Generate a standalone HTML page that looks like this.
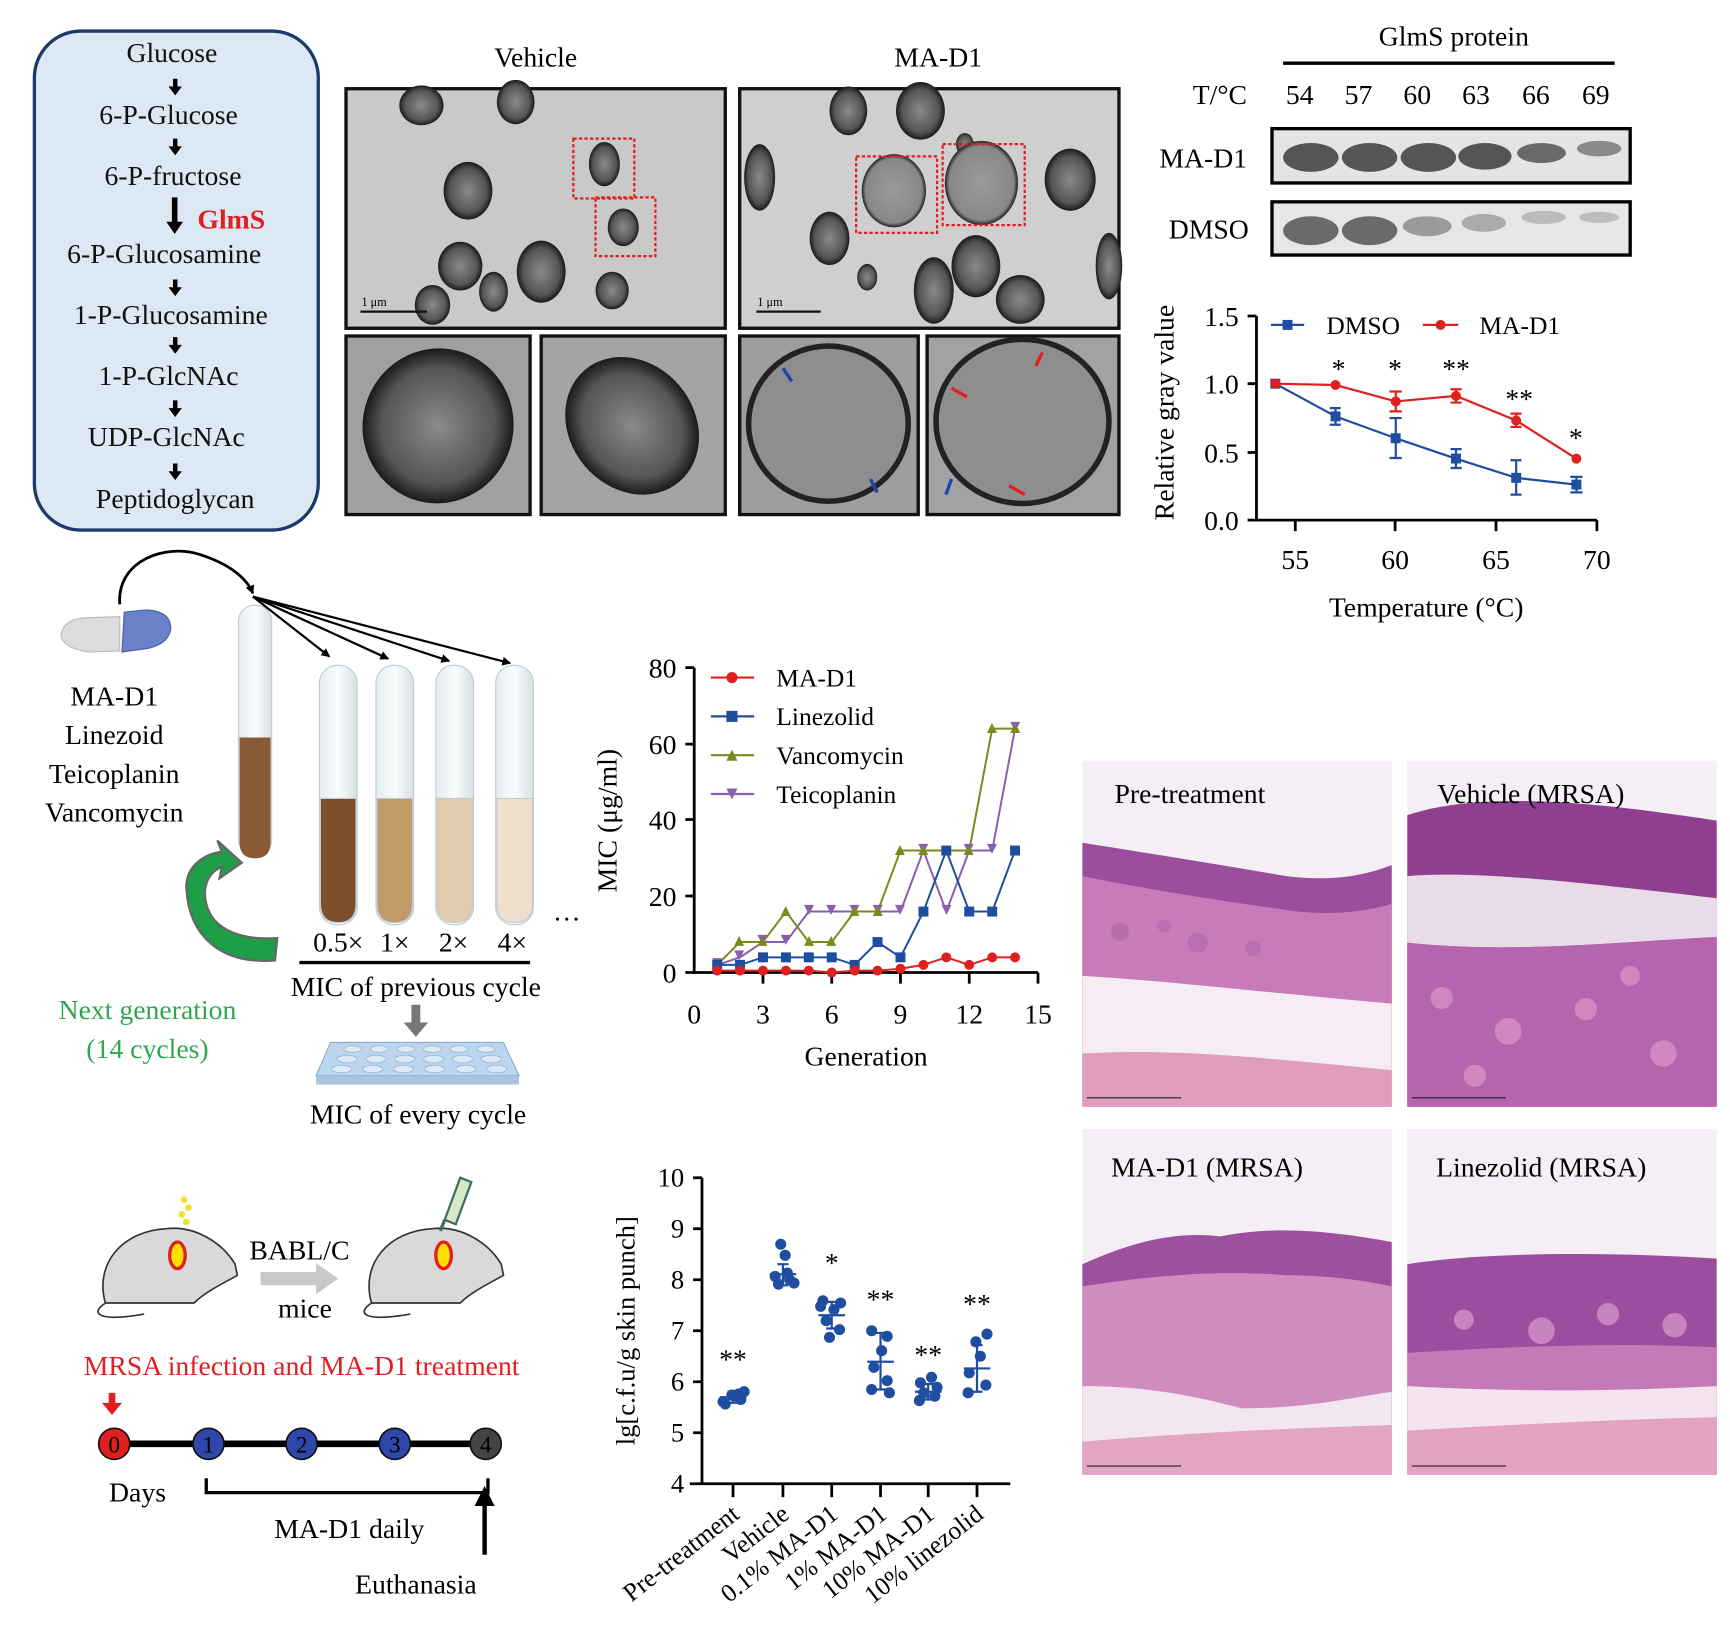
<!DOCTYPE html>
<html><head><meta charset="utf-8"><style>
html,body{margin:0;padding:0;background:#fff;}
svg{display:block;}
text{font-family:"Liberation Serif","DejaVu Serif",serif;}
</style></head><body>
<svg width="1730" height="1649" viewBox="0 0 1560 1487" preserveAspectRatio="none" xmlns="http://www.w3.org/2000/svg">
<defs>
<marker id="ah" markerWidth="8" markerHeight="8" refX="7" refY="4" orient="auto" markerUnits="userSpaceOnUse"><path d="M0,0 L8,4 L0,8 Z" fill="#000"/></marker>
<linearGradient id="tube" x1="0" x2="1"><stop offset="0" stop-color="#e4ecef"/><stop offset="0.5" stop-color="#fafcfc"/><stop offset="1" stop-color="#d6e0e4"/></linearGradient>
<radialGradient id="cell" cx="0.5" cy="0.5" r="0.5"><stop offset="0" stop-color="#8a8a8a"/><stop offset="0.75" stop-color="#555"/><stop offset="1" stop-color="#1a1a1a"/></radialGradient>
<radialGradient id="cellL" cx="0.5" cy="0.5" r="0.5"><stop offset="0" stop-color="#9a9a9a"/><stop offset="0.88" stop-color="#888"/><stop offset="1" stop-color="#222"/></radialGradient>
<symbol id="sqB" viewBox="-6 -6 12 12" overflow="visible"><rect x="-4.5" y="-4.5" width="9" height="9" fill="#1f4ea0"/></symbol>
</defs>

<!-- Pathway -->
<rect x="31" y="28" width="256" height="450" rx="42" fill="#dce8f3" stroke="#1c3a6a" stroke-width="3"/>
<g font-size="25" text-anchor="middle" fill="#111">
<text x="155" y="56">Glucose</text>
<text x="152" y="112">6-P-Glucose</text>
<text x="156" y="167">6-P-fructose</text>
<text x="148" y="237">6-P-Glucosamine</text>
<text x="154" y="292">1-P-Glucosamine</text>
<text x="152" y="347">1-P-GlcNAc</text>
<text x="150" y="402">UDP-GlcNAc</text>
<text x="158" y="458">Peptidoglycan</text>
</g>
<text x="178" y="206" font-size="25" font-weight="bold" fill="#e02020">GlmS</text>
<g fill="#000">
<path d="M156,71 h4 v7 h4 l-6,8 l-6,-8 h4z"/>
<path d="M156,125 h4 v7 h4 l-6,8 l-6,-8 h4z"/>
<path d="M155,178 h5 v22 h5 l-7.5,11 l-7.5,-11 h5z"/>
<path d="M156,252 h4 v7 h4 l-6,8 l-6,-8 h4z"/>
<path d="M156,304 h4 v7 h4 l-6,8 l-6,-8 h4z"/>
<path d="M156,361 h4 v7 h4 l-6,8 l-6,-8 h4z"/>
<path d="M156,418 h4 v7 h4 l-6,8 l-6,-8 h4z"/>
</g>

<!-- TEM -->
<text x="483" y="60" font-size="25" text-anchor="middle">Vehicle</text>
<text x="846" y="60" font-size="25" text-anchor="middle">MA-D1</text>
<rect x="312" y="80" width="342" height="216" fill="#c9c9c9" stroke="#111" stroke-width="3"/>
<g fill="url(#cell)">
<ellipse cx="380" cy="95" rx="20" ry="18"/><ellipse cx="465" cy="92" rx="17" ry="20"/>
<ellipse cx="422" cy="172" rx="22" ry="26"/><ellipse cx="545" cy="148" rx="14" ry="20"/>
<ellipse cx="562" cy="205" rx="14" ry="17"/><ellipse cx="415" cy="240" rx="20" ry="22"/>
<ellipse cx="488" cy="245" rx="22" ry="28"/><ellipse cx="552" cy="262" rx="15" ry="17"/>
<ellipse cx="445" cy="263" rx="13" ry="18"/><ellipse cx="390" cy="275" rx="16" ry="18"/>
</g>
<rect x="517" y="125" width="55" height="54" fill="none" stroke="#e02020" stroke-width="2" stroke-dasharray="3 2"/>
<rect x="537" y="178" width="54" height="53" fill="none" stroke="#e02020" stroke-width="2" stroke-dasharray="3 2"/>
<line x1="325" y1="281" x2="385" y2="281" stroke="#111" stroke-width="2"/><text x="326" y="276" font-size="11">1 μm</text>

<rect x="667" y="80" width="342" height="216" fill="#cfcfcf" stroke="#111" stroke-width="3"/>
<g fill="url(#cell)">
<ellipse cx="765" cy="100" rx="17" ry="22"/><ellipse cx="830" cy="100" rx="22" ry="26"/>
<ellipse cx="685" cy="160" rx="14" ry="30"/><ellipse cx="965" cy="162" rx="23" ry="28"/>
<ellipse cx="748" cy="215" rx="18" ry="24"/><ellipse cx="880" cy="240" rx="22" ry="28"/>
<ellipse cx="842" cy="262" rx="18" ry="30"/><ellipse cx="920" cy="270" rx="22" ry="22"/>
<ellipse cx="1000" cy="240" rx="12" ry="30"/><ellipse cx="870" cy="130" rx="8" ry="10"/>
<ellipse cx="782" cy="250" rx="9" ry="12"/>
</g>
<g fill="url(#cellL)"><ellipse cx="806" cy="172" rx="29" ry="33"/><ellipse cx="885" cy="165" rx="33" ry="38"/></g>
<rect x="772" y="141" width="73" height="69" fill="none" stroke="#e02020" stroke-width="2" stroke-dasharray="3 2"/>
<rect x="850" y="130" width="74" height="73" fill="none" stroke="#e02020" stroke-width="2" stroke-dasharray="3 2"/>
<line x1="682" y1="281" x2="740" y2="281" stroke="#111" stroke-width="2"/><text x="683" y="276" font-size="11">1 μm</text>

<rect x="312" y="303" width="166" height="161" fill="#a0a0a0" stroke="#111" stroke-width="3"/>
<ellipse cx="395" cy="384" rx="68" ry="70" fill="url(#cell)" transform="rotate(15 395 384)"/>
<rect x="488" y="303" width="166" height="161" fill="#a4a4a4" stroke="#111" stroke-width="3"/>
<ellipse cx="570" cy="384" rx="66" ry="56" fill="url(#cell)" transform="rotate(50 570 384)"/>
<rect x="667" y="303" width="161" height="161" fill="#9e9e9e" stroke="#111" stroke-width="3"/>
<ellipse cx="747" cy="382" rx="72" ry="70" fill="#8e8e8e" stroke="#222" stroke-width="5"/>
<rect x="836" y="303" width="173" height="161" fill="#a2a2a2" stroke="#111" stroke-width="3"/>
<ellipse cx="922" cy="380" rx="78" ry="74" fill="#8e8e8e" stroke="#222" stroke-width="5"/>
<g stroke-width="3" fill="none"><path d="M706,332 l8,12 M785,432 l6,12" stroke="#2244aa"/><path d="M858,432 l-5,14" stroke="#2244aa"/><path d="M940,318 l-6,12 M858,350 l14,8 M910,438 l14,8" stroke="#e02020"/></g>

<!-- Gel -->
<text x="1311" y="41" font-size="25" text-anchor="middle">GlmS protein</text>
<line x1="1157" y1="57" x2="1456" y2="57" stroke="#000" stroke-width="3"/>
<g font-size="25" text-anchor="middle"><text x="1100" y="94">T/°C</text><text x="1172" y="94">54</text><text x="1225" y="94">57</text><text x="1278" y="94">60</text><text x="1331" y="94">63</text><text x="1385" y="94">66</text><text x="1439" y="94">69</text>
<text x="1085" y="151">MA-D1</text><text x="1090" y="215">DMSO</text></g>
<rect x="1147" y="116" width="323" height="49" fill="#e4e4e4" stroke="#000" stroke-width="3"/>
<g fill="#555"><ellipse cx="1182" cy="142" rx="25" ry="13"/><ellipse cx="1235" cy="142" rx="25" ry="13"/><ellipse cx="1288" cy="142" rx="25" ry="13"/><ellipse cx="1339" cy="141" rx="24" ry="12"/><ellipse cx="1390" cy="138" rx="22" ry="9" fill="#6a6a6a"/><ellipse cx="1442" cy="134" rx="20" ry="7" fill="#8a8a8a"/></g>
<rect x="1147" y="182" width="323" height="48" fill="#e6e6e6" stroke="#000" stroke-width="3"/>
<g><ellipse cx="1182" cy="208" rx="25" ry="13" fill="#6a6a6a"/><ellipse cx="1235" cy="208" rx="25" ry="13" fill="#6a6a6a"/><ellipse cx="1287" cy="204" rx="22" ry="9" fill="#9a9a9a"/><ellipse cx="1338" cy="201" rx="20" ry="8" fill="#aaa"/><ellipse cx="1392" cy="196" rx="20" ry="6" fill="#bbb"/><ellipse cx="1442" cy="196" rx="18" ry="5" fill="#bdbdbd"/></g>

<!-- Thermal chart -->
<g stroke="#000" stroke-width="2.5" fill="none">
<path d="M1133,285 V469 H1440"/>
<path d="M1125,285 H1133 M1125,346 H1133 M1125,408 H1133 M1125,469 H1133"/>
<path d="M1168,469 V479 M1258,469 V479 M1349,469 V479 M1440,469 V479"/>
</g>
<g font-size="25" text-anchor="end"><text x="1117" y="294">1.5</text><text x="1117" y="355">1.0</text><text x="1117" y="417">0.5</text><text x="1117" y="478">0.0</text></g>
<g font-size="25" text-anchor="middle"><text x="1168" y="513">55</text><text x="1258" y="513">60</text><text x="1349" y="513">65</text><text x="1440" y="513">70</text>
<text x="1286" y="556">Temperature (°C)</text></g>
<text transform="translate(1058,372) rotate(-90)" font-size="25" text-anchor="middle">Relative gray value</text>
<g stroke="#1f4ea0" stroke-width="2" fill="none">
<polyline points="1150,346 1204.3,375.5 1258.6,395.2 1312.9,413.6 1367.2,430.9 1421.5,437"/>
<path d="M1204.3,368 V383 M1199,368 h10 M1199,383 h10 M1258.6,377 V413 M1253,377 h11 M1253,413 h11 M1312.9,405 V422 M1308,405 h10 M1308,422 h10 M1367.2,415 V446 M1362,415 h10 M1362,446 h10 M1421.5,430 V444 M1416,430 h11 M1416,444 h11"/>
</g>
<g stroke="#e02020" stroke-width="2" fill="none">
<polyline points="1150,346 1204.3,347.2 1258.6,362 1312.9,357 1367.2,379.2 1421.5,413.6"/>
<path d="M1258.6,353 V371 M1253,353 h11 M1253,371 h11 M1312.9,351 V363 M1308,351 h10 M1308,363 h10 M1367.2,373 V385 M1362,373 h10 M1362,385 h10"/>
</g>
<g fill="#1f4ea0"><rect x="1145.5" y="341.5" width="9" height="9"/><rect x="1199.8" y="371" width="9" height="9"/><rect x="1254" y="390.7" width="9" height="9"/><rect x="1308.4" y="409" width="9" height="9"/><rect x="1362.7" y="426.4" width="9" height="9"/><rect x="1417" y="432.5" width="9" height="9"/></g>
<g fill="#e02020"><circle cx="1150" cy="346" r="4.5"/><circle cx="1204.3" cy="347.2" r="4.5"/><circle cx="1258.6" cy="362" r="4.5"/><circle cx="1312.9" cy="357" r="4.5"/><circle cx="1367.2" cy="379.2" r="4.5"/><circle cx="1421.5" cy="413.6" r="4.5"/></g>
<g font-size="25" text-anchor="middle"><text x="1207" y="341">*</text><text x="1258" y="341">*</text><text x="1313" y="341">**</text><text x="1370" y="368">**</text><text x="1421" y="403">*</text></g>
<line x1="1146" y1="293" x2="1176" y2="293" stroke="#1f4ea0" stroke-width="2"/><rect x="1156.5" y="288.5" width="9" height="9" fill="#1f4ea0"/>
<text x="1196" y="301" font-size="23">DMSO</text>
<line x1="1283" y1="293" x2="1315" y2="293" stroke="#e02020" stroke-width="2"/><circle cx="1299" cy="293" r="4.5" fill="#e02020"/>
<text x="1334" y="301" font-size="23">MA-D1</text>

<!-- Resistance schematic -->
<path d="M108,545 C105,505 150,490 180,500 C205,508 222,520 228,535" fill="none" stroke="#000" stroke-width="2.5" marker-end="url(#ah)"/>
<path d="M80,557 q-22,0 -25,15 q0,12 25,16 l28,-1 l0,-31z" fill="#dcdcdc" stroke="#bbb"/>
<path d="M112,552 l20,-2 q22,1 22,17 q-2,14 -22,18 l-22,3z" fill="#6a80c8" stroke="#4a5ea8"/>
<g font-size="25" text-anchor="middle"><text x="103" y="636">MA-D1</text><text x="103" y="671">Linezoid</text><text x="103" y="706">Teicoplanin</text><text x="103" y="741">Vancomycin</text></g>
<rect x="215" y="546" width="30" height="225" rx="14" fill="url(#tube)" stroke="#c0ccd2"/>
<path d="M216,665 h28 v95 q0,14 -14,14 q-14,0 -14,-14z" fill="#8a5a34"/>
<g stroke="#000" stroke-width="2" fill="none">
<line x1="228" y1="538" x2="297" y2="592" marker-end="url(#ah)"/>
<line x1="228" y1="538" x2="350" y2="594" marker-end="url(#ah)"/>
<line x1="228" y1="538" x2="405" y2="596" marker-end="url(#ah)"/>
<line x1="228" y1="538" x2="460" y2="598" marker-end="url(#ah)"/>
</g>
<g stroke="#c0ccd2">
<rect x="288" y="600" width="34" height="234" rx="16" fill="url(#tube)"/><path d="M289,720 h32 v95 q0,17 -16,17 q-16,0 -16,-17z" fill="#7d4f2a"/>
<rect x="339" y="600" width="34" height="234" rx="16" fill="url(#tube)"/><path d="M340,720 h32 v95 q0,17 -16,17 q-16,0 -16,-17z" fill="#c09a68"/>
<rect x="393" y="600" width="34" height="234" rx="16" fill="url(#tube)"/><path d="M394,720 h32 v95 q0,17 -16,17 q-16,0 -16,-17z" fill="#e3cbae"/>
<rect x="447" y="600" width="34" height="234" rx="16" fill="url(#tube)"/><path d="M448,720 h32 v95 q0,17 -16,17 q-16,0 -16,-17z" fill="#efdfcd"/>
</g>
<g font-size="25" text-anchor="middle"><text x="305" y="858">0.5×</text><text x="356" y="858">1×</text><text x="409" y="858">2×</text><text x="462" y="858">4×</text><text x="511" y="830">…</text>
<text x="375" y="898">MIC of previous cycle</text><text x="377" y="1013">MIC of every cycle</text></g>
<line x1="270" y1="868" x2="478" y2="868" stroke="#000" stroke-width="3"/>
<path d="M371,906 h8 v16 h7 l-11,13 l-11,-13 h7z" fill="#777"/>
<path d="M298,940 h156 l14,30 h-183z" fill="#bcd6ef" stroke="#8aaac8"/><rect x="285" y="970" width="183" height="8" fill="#a9c4e0"/>
<g fill="#dceaf7" stroke="#9ab8d4" stroke-width="0.8"><ellipse cx="318" cy="946" rx="8" ry="3"/><ellipse cx="342" cy="946" rx="8" ry="3"/><ellipse cx="366" cy="946" rx="8" ry="3"/><ellipse cx="390" cy="946" rx="8" ry="3"/><ellipse cx="414" cy="946" rx="8" ry="3"/><ellipse cx="438" cy="946" rx="8" ry="3"/>
<ellipse cx="313" cy="955" rx="9" ry="3.5"/><ellipse cx="339" cy="955" rx="9" ry="3.5"/><ellipse cx="365" cy="955" rx="9" ry="3.5"/><ellipse cx="391" cy="955" rx="9" ry="3.5"/><ellipse cx="417" cy="955" rx="9" ry="3.5"/><ellipse cx="443" cy="955" rx="9" ry="3.5"/>
<ellipse cx="308" cy="964" rx="9" ry="3.5"/><ellipse cx="336" cy="964" rx="9" ry="3.5"/><ellipse cx="364" cy="964" rx="9" ry="3.5"/><ellipse cx="392" cy="964" rx="9" ry="3.5"/><ellipse cx="420" cy="964" rx="9" ry="3.5"/><ellipse cx="448" cy="964" rx="9" ry="3.5"/></g>
<path d="M248,866 C200,870 170,845 168,800 C168,780 185,770 200,768 L196,758 L218,778 L198,792 L200,782 C188,786 182,800 186,815 C192,840 220,848 250,846z" fill="#1f9e48" stroke="#666" stroke-width="2"/>
<g font-size="25" text-anchor="middle" fill="#2ea84f"><text x="133" y="919">Next  generation</text><text x="133" y="954">(14 cycles)</text></g>

<!-- MIC chart -->
<g stroke="#000" stroke-width="2.5" fill="none">
<path d="M626,602 V877 H936"/>
<path d="M618,602 H626 M618,671 H626 M618,739 H626 M618,808 H626 M618,877 H626"/>
<path d="M688,877 V887 M750,877 V887 M812,877 V887 M874,877 V887 M936,877 V887"/>
</g>
<g font-size="25" text-anchor="end"><text x="610" y="611">80</text><text x="610" y="680">60</text><text x="610" y="748">40</text><text x="610" y="817">20</text><text x="610" y="886">0</text></g>
<g font-size="25" text-anchor="middle"><text x="626" y="923">0</text><text x="688" y="923">3</text><text x="750" y="923">6</text><text x="812" y="923">9</text><text x="874" y="923">12</text><text x="936" y="923">15</text><text x="781" y="961">Generation</text></g>
<text transform="translate(556,740) rotate(-90)" font-size="25" text-anchor="middle">MIC (μg/ml)</text>
<g fill="none" stroke-width="1.8">
<polyline stroke="#8a5fb0" points="646.7,870.1 667.3,863.3 688,849.5 708.7,849.5 729.3,822 750,822 770.7,822 791.3,822 812,822 832.7,767 853.3,822 874,767 894.7,767 915.3,657"/>
<polyline stroke="#7a8a1e" points="646.7,870.1 667.3,849.5 688,849.5 708.7,822 729.3,849.5 750,849.5 770.7,822 791.3,822 812,767 832.7,767 853.3,767 874,767 894.7,657 915.3,657"/>
<polyline stroke="#1f4ea0" points="646.7,870.1 667.3,870.1 688,863.3 708.7,863.3 729.3,863.3 750,863.3 770.7,870.1 791.3,849.5 812,863.3 832.7,822 853.3,767 874,822 894.7,822 915.3,767"/>
<polyline stroke="#e02020" points="646.7,875.3 667.3,875.3 688,875.3 708.7,875.3 729.3,875.3 750,877 770.7,875.3 791.3,875.3 812,873.6 832.7,870.1 853.3,863.3 874,870.1 894.7,863.3 915.3,863.3"/>
</g>
<g fill="#8a5fb0"><path d="M642,864 h9 l-4.5,9z M662,857 h9 l-4.5,9z M683,843 h9 l-4.5,9z M704,843 h9 l-4.5,9z M725,816 h9 l-4.5,9z M745,816 h9 l-4.5,9z M766,816 h9 l-4.5,9z M787,816 h9 l-4.5,9z M807,816 h9 l-4.5,9z M828,761 h9 l-4.5,9z M849,816 h9 l-4.5,9z M869,761 h9 l-4.5,9z M890,761 h9 l-4.5,9z M911,651 h9 l-4.5,9z"/></g>
<g fill="#7a8a1e"><path d="M642,874 h9 l-4.5,-9z M662,853 h9 l-4.5,-9z M683,853 h9 l-4.5,-9z M704,826 h9 l-4.5,-9z M725,853 h9 l-4.5,-9z M745,853 h9 l-4.5,-9z M766,826 h9 l-4.5,-9z M787,826 h9 l-4.5,-9z M807,771 h9 l-4.5,-9z M828,771 h9 l-4.5,-9z M849,771 h9 l-4.5,-9z M869,771 h9 l-4.5,-9z M890,661 h9 l-4.5,-9z M911,661 h9 l-4.5,-9z"/></g>
<g fill="#1f4ea0"><rect x="642.2" y="865.6" width="9" height="9"/><rect x="662.8" y="865.6" width="9" height="9"/><rect x="683.5" y="858.8" width="9" height="9"/><rect x="704.2" y="858.8" width="9" height="9"/><rect x="724.8" y="858.8" width="9" height="9"/><rect x="745.5" y="858.8" width="9" height="9"/><rect x="766.2" y="865.6" width="9" height="9"/><rect x="786.8" y="845" width="9" height="9"/><rect x="807.5" y="858.8" width="9" height="9"/><rect x="828.2" y="817.5" width="9" height="9"/><rect x="848.8" y="762.5" width="9" height="9"/><rect x="869.5" y="817.5" width="9" height="9"/><rect x="890.2" y="817.5" width="9" height="9"/><rect x="910.8" y="762.5" width="9" height="9"/></g>
<g fill="#e02020"><circle cx="646.7" cy="875.3" r="4.5"/><circle cx="667.3" cy="875.3" r="4.5"/><circle cx="688" cy="875.3" r="4.5"/><circle cx="708.7" cy="875.3" r="4.5"/><circle cx="729.3" cy="875.3" r="4.5"/><circle cx="750" cy="877" r="4.5"/><circle cx="770.7" cy="875.3" r="4.5"/><circle cx="791.3" cy="875.3" r="4.5"/><circle cx="812" cy="873.6" r="4.5"/><circle cx="832.7" cy="870.1" r="4.5"/><circle cx="853.3" cy="863.3" r="4.5"/><circle cx="874" cy="870.1" r="4.5"/><circle cx="894.7" cy="863.3" r="4.5"/><circle cx="915.3" cy="863.3" r="4.5"/></g>
<g stroke-width="2"><line x1="641" y1="611" x2="680" y2="611" stroke="#e02020"/><line x1="641" y1="646" x2="680" y2="646" stroke="#1f4ea0"/><line x1="641" y1="681" x2="680" y2="681" stroke="#7a8a1e"/><line x1="641" y1="716" x2="680" y2="716" stroke="#8a5fb0"/></g>
<circle cx="660" cy="611" r="5" fill="#e02020"/><rect x="655" y="641" width="10" height="10" fill="#1f4ea0"/><path d="M655,686 h10 l-5,-10z" fill="#7a8a1e"/><path d="M655,711 h10 l-5,10z" fill="#8a5fb0"/>
<g font-size="23"><text x="700" y="619">MA-D1</text><text x="700" y="654">Linezolid</text><text x="700" y="689">Vancomycin</text><text x="700" y="724">Teicoplanin</text></g>

<!-- Histology -->
<g>
<rect x="976" y="686" width="279" height="312" fill="#f5eef5"/>
<path d="M976,760 C1040,770 1100,780 1160,790 C1200,795 1230,790 1255,780 V998 H976Z" fill="#9a4f9e"/>
<path d="M976,790 C1050,805 1120,815 1170,822 C1210,826 1240,820 1255,815 V998 H976Z" fill="#c77bb8"/>
<path d="M976,880 C1060,885 1140,895 1255,905 V998 H976Z" fill="#f6ecf4"/>
<path d="M976,950 C1060,945 1150,955 1255,965 V998 H976Z" fill="#df9cbc"/>
<g fill="#b06aae" opacity="0.7"><circle cx="1010" cy="840" r="8"/><circle cx="1080" cy="850" r="9"/><circle cx="1130" cy="855" r="7"/><circle cx="1050" cy="835" r="6"/></g>
<text x="1005" y="724" font-size="25">Pre-treatment</text>

<rect x="1269" y="686" width="279" height="312" fill="#f4eef5"/>
<path d="M1269,735 C1330,715 1420,720 1548,740 V998 H1269Z" fill="#8e3f8f"/>
<path d="M1269,790 C1330,785 1420,795 1548,810 V845 C1450,850 1360,860 1269,850Z" fill="#eadbe8"/>
<path d="M1269,850 C1360,860 1450,850 1548,845 V998 H1269Z" fill="#b565ad"/>
<g fill="#d590c4" opacity="0.8"><circle cx="1300" cy="900" r="10"/><circle cx="1360" cy="930" r="12"/><circle cx="1430" cy="910" r="10"/><circle cx="1500" cy="950" r="12"/><circle cx="1330" cy="970" r="10"/><circle cx="1470" cy="880" r="9"/></g>
<text x="1296" y="724" font-size="25">Vehicle (MRSA)</text>

<rect x="976" y="1018" width="279" height="312" fill="#f5eef5"/>
<path d="M976,1140 C1020,1120 1060,1110 1100,1115 C1150,1105 1200,1110 1255,1120 V1330 H976Z" fill="#9c509f"/>
<path d="M976,1160 C1040,1150 1100,1145 1160,1150 C1200,1150 1230,1155 1255,1160 V1330 H976Z" fill="#d08cbf"/>
<path d="M976,1250 C1040,1250 1080,1260 1120,1270 C1180,1270 1220,1260 1255,1255 V1330 H976Z" fill="#f3e6f0"/>
<path d="M976,1300 C1040,1295 1100,1290 1255,1285 V1330 H976Z" fill="#e3a6c2"/>
<text x="1002" y="1061" font-size="25">MA-D1 (MRSA)</text>

<rect x="1269" y="1018" width="279" height="312" fill="#f5eef5"/>
<path d="M1269,1140 C1330,1130 1440,1128 1548,1135 V1330 H1269Z" fill="#9a4ea0"/>
<path d="M1269,1220 C1350,1215 1450,1210 1548,1215 V1330 H1269Z" fill="#c47ab6"/>
<path d="M1269,1250 C1360,1255 1450,1255 1548,1250 V1330 H1269Z" fill="#f3e4ef"/>
<path d="M1269,1290 C1360,1285 1450,1280 1548,1278 V1330 H1269Z" fill="#e4a2c2"/>
<g fill="#c983c0"><circle cx="1320" cy="1190" r="9"/><circle cx="1390" cy="1200" r="12"/><circle cx="1450" cy="1185" r="10"/><circle cx="1510" cy="1195" r="11"/></g>
<text x="1295" y="1061" font-size="25">Linezolid (MRSA)</text>
<g stroke="#222" stroke-width="1"><path d="M980,990 h85 M1273,990 h85 M980,1322 h85 M1273,1322 h85"/></g>
</g>

<!-- Mice / timeline -->
<g fill="#d9d9d9" stroke="#333" stroke-width="1.5">
<path d="M95,1175 C85,1140 110,1110 150,1108 C175,1105 200,1120 212,1140 L214,1150 C200,1158 185,1165 175,1175 Z"/>
<path d="M95,1175 C80,1185 90,1192 130,1185" fill="none"/>
<path d="M335,1175 C325,1140 350,1110 390,1108 C415,1105 440,1120 452,1140 L454,1150 C440,1158 425,1165 415,1175 Z"/>
<path d="M335,1175 C320,1185 330,1192 370,1185" fill="none"/>
</g>
<ellipse cx="160" cy="1132" rx="7" ry="12" fill="#ffe000" stroke="#e02020" stroke-width="3"/>
<ellipse cx="400" cy="1132" rx="7" ry="12" fill="#ffe000" stroke="#e02020" stroke-width="3"/>
<g fill="#f0e030"><circle cx="166" cy="1082" r="3"/><circle cx="170" cy="1089" r="3"/><circle cx="164" cy="1095" r="3"/><circle cx="168" cy="1102" r="3"/></g>
<path d="M415,1062 l10,4 l-14,38 l-10,-4z" fill="#d6e8c8" stroke="#3a7060" stroke-width="2"/><path d="M401,1100 l-4,10" stroke="#3a7060" stroke-width="3"/>
<text x="270" y="1136" font-size="25" text-anchor="middle">BABL/C</text>
<path d="M235,1147 h50 v-8 l20,14 l-20,14 v-8 h-50z" fill="#c8c8c8"/>
<text x="275" y="1188" font-size="25" text-anchor="middle">mice</text>
<text x="272" y="1240" font-size="25" text-anchor="middle" fill="#e02020">MRSA infection and MA-D1 treatment</text>
<path d="M98,1256 h6 v9 h6 l-9,11 l-9,-11 h6z" fill="#e02020"/>
<line x1="103" y1="1302" x2="438" y2="1302" stroke="#000" stroke-width="6"/>
<g stroke="#111" stroke-width="1.5"><circle cx="103" cy="1302" r="14" fill="#e02020"/><circle cx="188" cy="1302" r="14" fill="#2e47a8"/><circle cx="272" cy="1302" r="14" fill="#2e47a8"/><circle cx="356" cy="1302" r="14" fill="#2e47a8"/><circle cx="438" cy="1302" r="14" fill="#444"/></g>
<g font-size="21" text-anchor="middle"><text x="103" y="1310">0</text><text x="188" y="1310">1</text><text x="272" y="1310">2</text><text x="356" y="1310">3</text><text x="438" y="1310">4</text></g>
<text x="124" y="1354" font-size="25" text-anchor="middle">Days</text>
<path d="M186,1333 V1346 H440 V1333" fill="none" stroke="#000" stroke-width="3"/>
<text x="315" y="1387" font-size="25" text-anchor="middle">MA-D1 daily</text>
<path d="M435,1402 V1358 h-7 l9,-18 l9,18 h-7 V1402z" fill="#000"/>
<text x="375" y="1437" font-size="25" text-anchor="middle">Euthanasia</text>

<!-- Scatter chart -->
<g stroke="#000" stroke-width="2.5" fill="none">
<path d="M633,1062 V1338 M622,1338 H911"/>
<path d="M625,1062 H633 M625,1108 H633 M625,1154 H633 M625,1200 H633 M625,1246 H633 M625,1292 H633"/>
<path d="M661,1338 V1350 M706,1338 V1350 M750,1338 V1350 M794,1338 V1350 M837,1338 V1350 M881,1338 V1350"/>
</g>
<g font-size="24" text-anchor="end"><text x="617" y="1070">10</text><text x="617" y="1116">9</text><text x="617" y="1162">8</text><text x="617" y="1208">7</text><text x="617" y="1254">6</text><text x="617" y="1300">5</text><text x="617" y="1346">4</text></g>
<text transform="translate(572,1200) rotate(-90)" font-size="24" text-anchor="middle">lg[c.f.u/g skin punch]</text>
<g font-size="23" text-anchor="end">
<text transform="translate(668,1368) rotate(-38)">Pre-treatment</text>
<text transform="translate(713,1368) rotate(-38)">Vehicle</text>
<text transform="translate(757,1368) rotate(-38)">0.1% MA-D1</text>
<text transform="translate(801,1368) rotate(-38)">1% MA-D1</text>
<text transform="translate(844,1368) rotate(-38)">10% MA-D1</text>
<text transform="translate(888,1368) rotate(-38)">10% linezolid</text>
</g>
<g stroke="#1f4ea0" stroke-width="2" fill="none">
<path d="M649,1260 h24 M661,1255 V1265 M656,1255 h10 M656,1265 h10"/>
<path d="M694,1149 h24 M706,1140 V1159 M701,1140 h10 M701,1159 h10"/>
<path d="M738,1186 h24 M750,1174 V1198 M745,1174 h10 M745,1198 h10"/>
<path d="M782,1228 h24 M794,1202 V1253 M789,1202 h10 M789,1253 h10"/>
<path d="M825,1255 h24 M837,1248 V1262 M832,1248 h10 M832,1262 h10"/>
<path d="M869,1234 h24 M881,1213 V1255 M876,1213 h10 M876,1255 h10"/>
</g>
<g fill="#1f4ea0">
<circle cx="654" cy="1266" r="5"/><circle cx="668" cy="1262" r="5"/><circle cx="660" cy="1258" r="5"/><circle cx="666" cy="1257" r="5"/><circle cx="671" cy="1255" r="5"/><circle cx="652" cy="1264" r="5"/><circle cx="662" cy="1259" r="5"/>
<circle cx="704" cy="1122" r="5"/><circle cx="708" cy="1132" r="5"/><circle cx="699" cy="1151" r="5"/><circle cx="712" cy="1154" r="5"/><circle cx="716" cy="1157" r="5"/><circle cx="702" cy="1158" r="5"/><circle cx="710" cy="1148" r="5"/>
<circle cx="742" cy="1173" r="5"/><circle cx="758" cy="1175" r="5"/><circle cx="752" cy="1181" r="5"/><circle cx="745" cy="1191" r="5"/><circle cx="757" cy="1199" r="5"/><circle cx="748" cy="1206" r="5"/><circle cx="740" cy="1178" r="5"/>
<circle cx="786" cy="1200" r="5"/><circle cx="800" cy="1205" r="5"/><circle cx="795" cy="1218" r="5"/><circle cx="788" cy="1233" r="5"/><circle cx="800" cy="1245" r="5"/><circle cx="786" cy="1253" r="5"/><circle cx="802" cy="1256" r="5"/>
<circle cx="840" cy="1242" r="5"/><circle cx="830" cy="1247" r="5"/><circle cx="845" cy="1251" r="5"/><circle cx="833" cy="1256" r="5"/><circle cx="843" cy="1259" r="5"/><circle cx="829" cy="1263" r="5"/>
<circle cx="890" cy="1203" r="5"/><circle cx="880" cy="1210" r="5"/><circle cx="884" cy="1223" r="5"/><circle cx="874" cy="1238" r="5"/><circle cx="889" cy="1249" r="5"/><circle cx="873" cy="1256" r="5"/>
</g>
<g font-size="25" text-anchor="middle"><text x="661" y="1234">**</text><text x="750" y="1147">*</text><text x="794" y="1180">**</text><text x="837" y="1230">**</text><text x="881" y="1184">**</text></g>
</svg>
</body></html>
